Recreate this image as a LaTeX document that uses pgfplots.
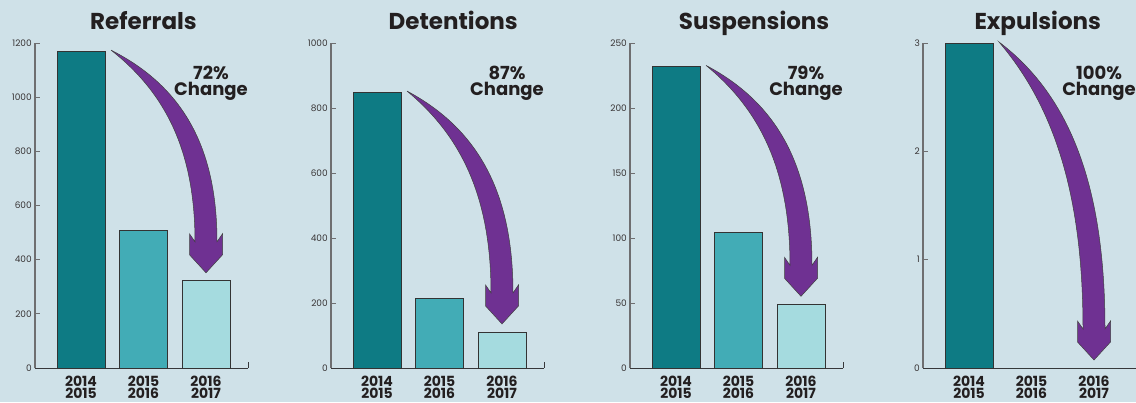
\documentclass[border=0pt]{standalone}
\usepackage{fontspec}
\setmainfont{Poppins}
\usepackage{pgfplots}
\pgfplotsset{compat=1.18}
\usetikzlibrary{calc}
\definecolor{bgc}{RGB}{207,225,232}
\definecolor{cA}{RGB}{14,123,132}
\definecolor{cB}{RGB}{66,172,182}
\definecolor{cC}{RGB}{165,219,223}
\definecolor{arrp}{RGB}{111,49,146}
\definecolor{txt}{RGB}{35,31,32}
\definecolor{yax}{RGB}{110,110,112}
\definecolor{xax}{RGB}{55,55,58}

\pgfplotsset{
  panel/.style={
    scale only axis, width=213pt, height=325pt, anchor=south west,
    xmin=-0.736, xmax=2.672, ymin=0, clip=false,
    axis lines*=left,
    x axis line style={draw=xax, line width=1pt},
    y axis line style={draw=yax, line width=1.1pt},
    ybar, bar width=0.768, bar shift=0pt,
    every axis plot post/.append style={bar shift=0pt},
    xtick={0,1,2},
    xticklabels={{2014\\2015},{2015\\2016},{2016\\2017}},
    xtick style={draw=none},
    xticklabel style={align=center, inner sep=0pt, yshift=-7.5pt, text=txt,
      font=\bfseries\fontsize{14}{12.5}\selectfont},
    tick align=inside, major tick length=4.5pt,
    ytick style={draw=yax, line width=0.8pt},
    yticklabel style={inner sep=0pt, xshift=-3pt, text=txt!90,
      font=\fontsize{9}{9}\selectfont},
    /pgf/number format/assume math mode=true,
    scaled y ticks=false,
    yticklabel={\pgfmathprintnumber[fixed,precision=0,1000 sep={}]{\tick}},
  },
}
\tikzset{
  bA/.style={fill=cA, draw=black!80, line width=0.8pt},
  bB/.style={fill=cB, draw=black!80, line width=0.8pt},
  bC/.style={fill=cC, draw=black!80, line width=0.8pt},
  ttl/.style={anchor=base, text=txt, font=\bfseries\fontsize{23}{26}\selectfont},
  pct/.style={anchor=north, align=center, inner sep=0pt, text=txt,
    font=\bfseries\fontsize{18}{16}\selectfont},
}

\newcommand\bigarrow[2]{%
  \filldraw[fill=arrp, draw=black!75, line width=0.5pt]
  let \p1=(#1), \p2=(#2) in
  (\p1) .. controls ({\x1+0.67*(\x2-\x1-11pt)}, {\y1-0.23*(\y1-\y2-31pt)})
          and ({\x2-11pt}, {\y2+31pt+0.46*(\y1-\y2-31pt)}) .. ({\x2-11pt},{\y2+31pt})
  -- ({\x2-16.5pt},{\y2+39pt}) -- ({\x2-16.5pt},{\y2+18pt}) -- (\p2)
  -- ({\x2+16.5pt},{\y2+18pt}) -- ({\x2+16.5pt},{\y2+39pt}) -- ({\x2+11pt},{\y2+31pt})
  .. controls ({\x2+11pt},{\y2+31pt+0.49*(\y1-\y2-31pt)})
          and ({\x1+0.68*(\x2-\x1+11pt)},{\y1-0.19*(\y1-\y2-31pt)}) .. (\p1) -- cycle;
}

\begin{document}
\begin{tikzpicture}
\fill[bgc] (0,0) rectangle (1136pt,402pt);
\useasboundingbox (0,0) rectangle (1136pt,402pt);

% ---------- Referrals
\begin{axis}[panel, at={(35pt,34pt)}, ymax=1200, ytick={0,200,...,1200}]
\addplot[bA] coordinates {(0,1170)};
\addplot[bB] coordinates {(1,508)};
\addplot[bC] coordinates {(2,322)};
\draw[xax, line width=1pt] (rel axis cs:1,0) -- ([yshift=6pt]rel axis cs:1,0);
\node[ttl] at ([yshift=13pt]axis cs:1.0,1200) {Referrals};
\node[pct] at ([yshift=-23pt]axis cs:2.08,1200) {72\%\\Change};
\coordinate (S1) at ([yshift=1pt]axis cs:0.48,1170);
\coordinate (T1) at ([yshift=8pt]axis cs:2.0,322);
\end{axis}
\bigarrow{S1}{T1}

% ---------- Detentions
\begin{axis}[panel, at={(331pt,34pt)}, ymax=1000, ytick={0,200,...,1000}]
\addplot[bA] coordinates {(0,849)};
\addplot[bB] coordinates {(1,215)};
\addplot[bC] coordinates {(2,111)};
\draw[xax, line width=1pt] (rel axis cs:1,0) -- ([yshift=6pt]rel axis cs:1,0);
\node[ttl] at ([yshift=13pt]axis cs:1.22,1000) {Detentions};
\node[pct] at ([yshift=-23pt]axis cs:2.08,1000) {87\%\\Change};
\coordinate (S2) at ([yshift=1pt]axis cs:0.48,849);
\coordinate (T2) at ([yshift=8pt]axis cs:2.0,111);
\end{axis}
\bigarrow{S2}{T2}

% ---------- Suspensions
\begin{axis}[panel, at={(630pt,34pt)}, ymax=250, ytick={0,50,...,250}]
\addplot[bA] coordinates {(0,232)};
\addplot[bB] coordinates {(1,104)};
\addplot[bC] coordinates {(2,49)};
\draw[xax, line width=1pt] (rel axis cs:1,0) -- ([yshift=6pt]rel axis cs:1,0);
\node[ttl] at ([yshift=13pt]axis cs:1.25,250) {Suspensions};
\node[pct] at ([yshift=-23pt]axis cs:2.08,250) {79\%\\Change};
\coordinate (S3) at ([yshift=1pt]axis cs:0.48,232);
\coordinate (T3) at ([yshift=8pt]axis cs:2.0,49);
\end{axis}
\bigarrow{S3}{T3}

% ---------- Expulsions
\begin{axis}[panel, at={(923pt,34pt)}, ymax=3, ytick={0,1,2,3}]
\addplot[bA] coordinates {(0,3)};
\addplot[bB] coordinates {(1,0)};
\addplot[bC] coordinates {(2,0)};
\draw[xax, line width=1pt] (rel axis cs:1,0) -- ([yshift=6pt]rel axis cs:1,0);
\node[ttl] at ([yshift=13pt]axis cs:1.1,3) {Expulsions};
\node[pct] at ([yshift=-23pt]axis cs:2.08,3) {100\%\\Change};
\coordinate (S4) at ([yshift=1pt]axis cs:0.48,3);
\coordinate (T4) at ([yshift=8pt]axis cs:2.0,0);
\end{axis}
\bigarrow{S4}{T4}
\end{tikzpicture}
\end{document}
